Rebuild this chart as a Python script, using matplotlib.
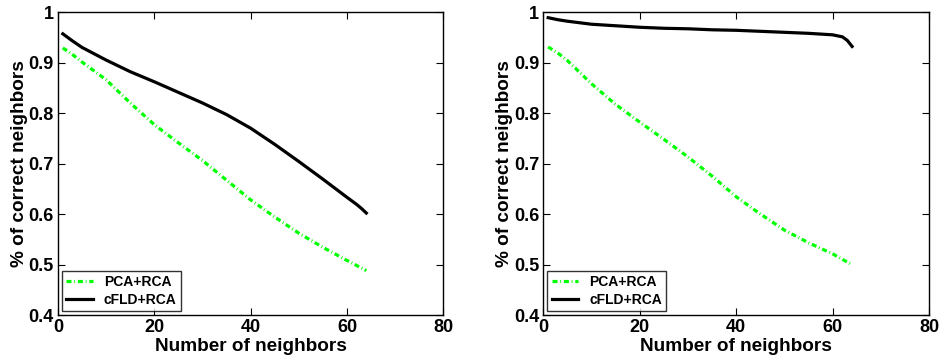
import matplotlib
matplotlib.use("Agg")
import matplotlib.pyplot as plt

plt.rcParams['font.family'] = ['Liberation Sans', 'DejaVu Sans']
plt.rcParams['font.weight'] = 'bold'
plt.rcParams['lines.scale_dashes'] = False

x = [1, 3, 5, 10, 15, 20, 25, 30, 35, 40, 45, 50, 55, 60, 62, 63, 64]

left_pca = [0.929, 0.916, 0.901, 0.866, 0.820, 0.777, 0.741, 0.706, 0.667, 0.628, 0.594, 0.562, 0.534, 0.508, 0.498, 0.493, 0.488]
left_cfld = [0.957, 0.943, 0.930, 0.905, 0.882, 0.862, 0.841, 0.820, 0.797, 0.770, 0.738, 0.704, 0.669, 0.633, 0.619, 0.611, 0.602]

right_pca = [0.931, 0.919, 0.904, 0.858, 0.817, 0.782, 0.748, 0.713, 0.675, 0.634, 0.600, 0.568, 0.543, 0.521, 0.510, 0.505, 0.499]
right_cfld = [0.989, 0.985, 0.982, 0.976, 0.973, 0.970, 0.968, 0.967, 0.965, 0.964, 0.962, 0.960, 0.958, 0.955, 0.951, 0.944, 0.932]

xticks = [0, 20, 40, 60, 80]
yticks = [0.4, 0.5, 0.6, 0.7, 0.8, 0.9, 1.0]
ytick_labels = ['0.4', '0.5', '0.6', '0.7', '0.8', '0.9', '1']

fig = plt.figure(figsize=(9.4, 3.61), dpi=100)
positions = [[0.0617, 0.1274, 0.410, 0.839], [0.578, 0.1274, 0.4106, 0.839]]
panels = [(left_pca, left_cfld), (right_pca, right_cfld)]

dashdot = (0, (3.6, 2.0, 0.6, 2.0))

for pos, (pca, cfld) in zip(positions, panels):
    ax = fig.add_axes(pos)
    ax.plot(x, pca, color='#00ff00', linestyle=dashdot, linewidth=2.3, label='PCA+RCA')
    ax.plot(x, cfld, color='black', linestyle='-', linewidth=2.3, label='cFLD+RCA')
    ax.set_xlim(0, 80)
    ax.set_ylim(0.4, 1.0)
    ax.set_xticks(xticks)
    ax.set_xticklabels([str(t) for t in xticks], fontsize=13, fontweight='bold')
    ax.set_yticks(yticks)
    ax.set_yticklabels(ytick_labels, fontsize=13, fontweight='bold')
    ax.tick_params(direction='in', top=True, right=True, length=5, width=0.8, pad=3)
    for s in ax.spines.values():
        s.set_linewidth(1.0)
    ax.set_xlabel('Number of neighbors', fontsize=13.7, fontweight='bold', labelpad=1)
    ax.set_ylabel('% of correct neighbors', fontsize=13.7, fontweight='bold', labelpad=0.5)
    leg = ax.legend(loc='lower left', fontsize=10, frameon=True, fancybox=False,
                    edgecolor='black', borderaxespad=0.3, handlelength=1.9,
                    borderpad=0.3, labelspacing=0.25, handletextpad=0.8)
    leg.get_frame().set_linewidth(1.0)
    for t in leg.get_texts():
        t.set_fontweight('bold')

fig.savefig('out.png', dpi=100)
